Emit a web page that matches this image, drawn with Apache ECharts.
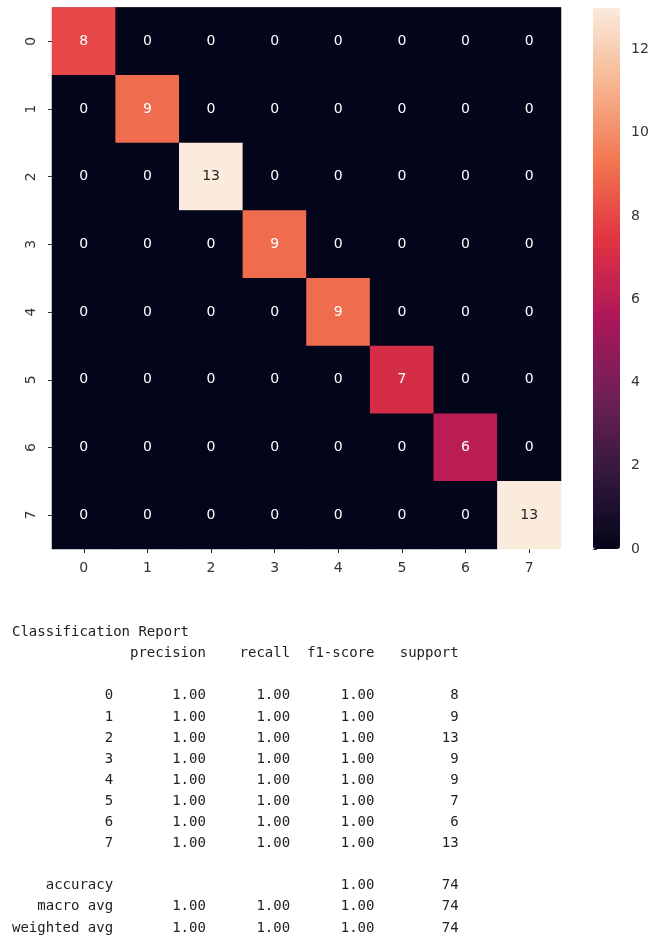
<!DOCTYPE html>
<html>
<head>
<meta charset="utf-8">
<script src="https://cdn.jsdelivr.net/npm/echarts@6/dist/echarts.min.js"></script>
<style>
  html, body { margin: 0; padding: 0; background: #fff; }
  #chart { width: 666px; height: 940px; }
</style>
</head>
<body>
<div id="chart"></div>
<script>
// Class labels for the confusion matrix
const classes = ['0', '1', '2', '3', '4', '5', '6', '7'];

// Confusion matrix rows (true class) x columns (predicted class)
const matrix = [
  [8, 0, 0, 0, 0, 0, 0, 0],
  [0, 9, 0, 0, 0, 0, 0, 0],
  [0, 0, 13, 0, 0, 0, 0, 0],
  [0, 0, 0, 9, 0, 0, 0, 0],
  [0, 0, 0, 0, 9, 0, 0, 0],
  [0, 0, 0, 0, 0, 7, 0, 0],
  [0, 0, 0, 0, 0, 0, 6, 0],
  [0, 0, 0, 0, 0, 0, 0, 13]
];

// Colour bar scale and its tick labels
const colorMin = 0;
const colorMax = 13;
const colorTicks = [0, 2, 4, 6, 8, 10, 12];

// Per-class metrics of the classification report
const precision = [1.00, 1.00, 1.00, 1.00, 1.00, 1.00, 1.00, 1.00];
const recall    = [1.00, 1.00, 1.00, 1.00, 1.00, 1.00, 1.00, 1.00];
const f1score   = [1.00, 1.00, 1.00, 1.00, 1.00, 1.00, 1.00, 1.00];
const support   = [8, 9, 13, 9, 9, 7, 6, 13];

// Summary rows
const accuracy = 1.00;
const macroAvg = [1.00, 1.00, 1.00];
const weightedAvg = [1.00, 1.00, 1.00];
const totalSupport = 74;

// "rocket" colormap sampled at even steps
const rocket = ['#03051a', '#35193e', '#701f57', '#ad1759', '#e13342', '#f37651', '#f6b48f', '#faebdd'];

const heatData = [];
matrix.forEach((row, r) => {
  row.forEach((v, c) => {
    heatData.push({
      value: [c, r, v],
      label: { color: v / colorMax > 0.8 ? '#262626' : '#ffffff' }
    });
  });
});

// Build the text report lines in the usual fixed-width layout
const W = 12;
const pad = (s, n) => String(s).padStart(n, ' ');
const f2 = v => v.toFixed(2);
const lines = [];
lines.push('Classification Report');
lines.push(pad('', W) + ' ' + ' ' + pad('precision', 9) + ' ' + pad('recall', 9) + ' ' + pad('f1-score', 9) + ' ' + pad('support', 9));
lines.push('');
classes.forEach((c, i) => {
  lines.push(pad(c, W) + ' ' + ' ' + pad(f2(precision[i]), 9) + ' ' + pad(f2(recall[i]), 9) + ' ' + pad(f2(f1score[i]), 9) + ' ' + pad(support[i], 9));
});
lines.push('');
lines.push(pad('accuracy', W) + ' ' + ' ' + pad('', 9) + ' ' + pad('', 9) + ' ' + pad(f2(accuracy), 9) + ' ' + pad(totalSupport, 9));
lines.push(pad('macro avg', W) + ' ' + ' ' + pad(f2(macroAvg[0]), 9) + ' ' + pad(f2(macroAvg[1]), 9) + ' ' + pad(f2(macroAvg[2]), 9) + ' ' + pad(totalSupport, 9));
lines.push(pad('weighted avg', W) + ' ' + ' ' + pad(f2(weightedAvg[0]), 9) + ' ' + pad(f2(weightedAvg[1]), 9) + ' ' + pad(f2(weightedAvg[2]), 9) + ' ' + pad(totalSupport, 9));

const reportText = lines.map((t, k) => ({
  type: 'text',
  left: 12,
  top: 633.5 + 21.1 * k - 8,
  style: {
    text: t,
    font: '14px "DejaVu Sans Mono", monospace',
    fill: '#222222'
  }
}));

const chart = echarts.init(document.getElementById('chart'), null, { renderer: 'canvas' });

const tickStyle = { color: '#333', width: 1 };
const labelFont = { color: '#333', fontSize: 14, fontFamily: 'DejaVu Sans' };

chart.setOption({
  animation: false,
  backgroundColor: '#ffffff',
  grid: [
    // matrix area, dark base so cell seams do not show
    { left: 52, top: 7.5, width: 509, height: 541.5, show: true, backgroundColor: rocket[0], borderWidth: 0 },
    // colour bar axis
    { left: 593, top: 8, width: 27, height: 541 }
  ],
  xAxis: [
    {
      type: 'category',
      gridIndex: 0,
      data: classes,
      position: 'bottom',
      axisLine: { show: false },
      axisTick: { show: true, alignWithLabel: true, length: 4, lineStyle: tickStyle },
      axisLabel: Object.assign({ margin: 12 }, labelFont),
      splitLine: { show: false }
    },
    { type: 'value', gridIndex: 1, show: false, min: 0, max: 1 }
  ],
  yAxis: [
    {
      type: 'category',
      gridIndex: 0,
      data: classes,
      inverse: true,
      axisLine: { show: false },
      axisTick: { show: true, alignWithLabel: true, length: 4, lineStyle: tickStyle },
      axisLabel: Object.assign({ rotate: 90, margin: 14 }, labelFont),
      splitLine: { show: false }
    },
    {
      type: 'value',
      gridIndex: 1,
      position: 'right',
      min: colorMin,
      max: colorMax,
      axisLine: { show: false },
      axisTick: { show: true, length: 4, customValues: colorTicks, lineStyle: tickStyle },
      axisLabel: Object.assign({ margin: 11, customValues: colorTicks, padding: [2, 0, 0, 0] }, labelFont),
      splitLine: { show: false }
    }
  ],
  visualMap: {
    type: 'continuous',
    seriesIndex: 0,
    min: colorMin,
    max: colorMax,
    calculable: false,
    hoverLink: false,
    orient: 'vertical',
    left: 593,
    top: 8,
    itemWidth: 27,
    itemHeight: 541,
    padding: 0,
    text: null,
    showLabel: false,
    inRange: { color: rocket }
  },
  series: [
    {
      type: 'heatmap',
      xAxisIndex: 0,
      yAxisIndex: 0,
      data: heatData,
      label: {
        show: true,
        fontSize: 14,
        fontFamily: 'DejaVu Sans',
        formatter: p => String(p.value[2])
      },
      itemStyle: { borderWidth: 0 },
      emphasis: { disabled: true }
    }
  ],
  graphic: reportText
});
</script>
</body>
</html>
